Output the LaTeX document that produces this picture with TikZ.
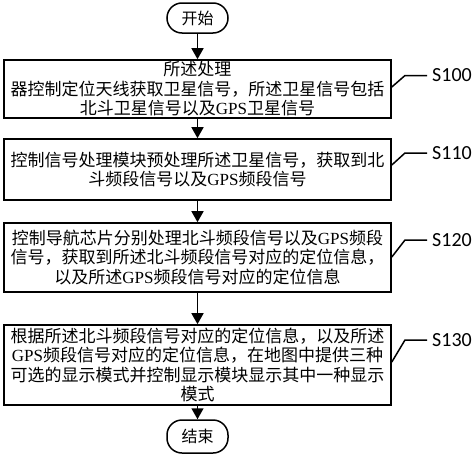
\documentclass[tikz,border=0pt]{standalone}
\usepackage{fontspec}
\setmainfont{Liberation Serif}
\newfontfamily\cjk{Noto Sans CJK SC}
\newfontfamily\lblfont{Carlito}
\usetikzlibrary{arrows.meta}
\newcommand{\gps}{{\rmfamily GPS}}
\begin{document}
\begin{tikzpicture}[x=1pt,y=-1pt,
 box/.style={draw, line width=1.6pt, minimum width=387pt, align=center, inner sep=0pt, font=\cjk\fontsize{17}{19.5}\selectfont},
 term/.style={draw, line width=1.5pt, rounded corners=15pt, minimum width=61pt, inner sep=0pt, font=\cjk\fontsize{16}{19}\selectfont},
 arr/.style={line width=1.5pt, -{Triangle[length=11pt,width=12pt]}},
 lead/.style={line width=1.5pt},
 lbl/.style={anchor=west, font=\lblfont\fontsize{20}{24}\selectfont, inner sep=0pt}]
\useasboundingbox (0,0) rectangle (474,458);

\node[term, minimum height=30pt] (st) at (197.5,18) {开始};
\node[box, minimum height=58pt] (b1) at (197.5,89) {所述处理\\器控制定位天线获取卫星信号，所述卫星信号包括\\北斗卫星信号以及\gps 卫星信号};
\node[box, minimum height=61pt] (b2) at (197.5,169.5) {控制信号处理模块预处理所述卫星信号，获取到北\\斗频段信号以及\gps 频段信号};
\node[box, minimum height=69pt] (b3) at (197.5,257.5) {控制导航芯片分别处理北斗频段信号以及\gps 频段\\信号，获取到所述北斗频段信号对应的定位信息，\\以及所述\gps 频段信号对应的定位信息};
\node[box, minimum height=80pt] (b4) at (197.5,365) {根据所述北斗频段信号对应的定位信息，以及所述\\\gps 频段信号对应的定位信息，在地图中提供三种\\可选的显示模式并控制显示模块显示其中一种显示\\模式};
\node[term, minimum height=33pt] (en) at (197.5,436.5) {结束};

\draw[arr] (st) -- (b1);
\draw[arr] (b1) -- (b2);
\draw[arr] (b2) -- (b3);
\draw[arr] (b3) -- (b4);
\draw[arr] (b4) -- (en);

\node[lbl] (l1) at (432,75.5) {S100};
\node[lbl] (l2) at (432,153) {S110};
\node[lbl] (l3) at (432,240) {S120};
\node[lbl] (l4) at (432,340) {S130};

\draw[lead] ([yshift=2pt]b1.east) -- ([xshift=-27pt]l1.west) -- ([xshift=-5pt]l1.west);
\draw[lead] ([yshift=4.5pt]b2.east) -- ([xshift=-27pt]l2.west) -- ([xshift=-5pt]l2.west);
\draw[lead] ([yshift=0.5pt]b3.east) -- ([xshift=-27pt]l3.west) -- ([xshift=-5pt]l3.west);
\draw[lead] ([yshift=3pt]b4.east) -- ([xshift=-27pt]l4.west) -- ([xshift=-5pt]l4.west);
\end{tikzpicture}
\end{document}
